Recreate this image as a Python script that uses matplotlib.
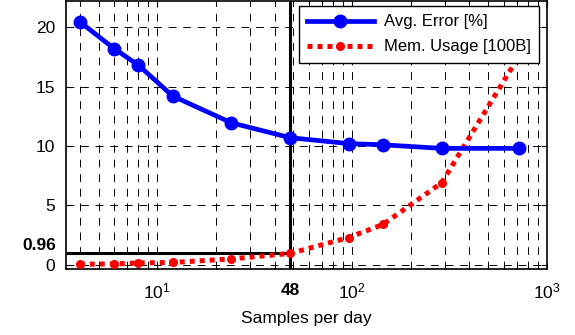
import matplotlib
matplotlib.use("Agg")
import matplotlib.pyplot as plt
from matplotlib.ticker import LogLocator, NullFormatter, FixedLocator, FixedFormatter

plt.rcParams['font.family'] = ['Liberation Sans', 'DejaVu Sans']
plt.rcParams['mathtext.default'] = 'regular'

samples = [4, 6, 8, 12, 24, 48, 96, 144, 288, 720]
avg_error = [20.45, 18.2, 16.8, 14.2, 11.95, 10.7, 10.2, 10.1, 9.8, 9.8]
mem_usage = [0.05, 0.08, 0.16, 0.2, 0.5, 0.96, 2.3, 3.4, 6.9, 17.6]
y_ticks = [0, 5, 10, 15, 20]
x_major = [10, 100, 1000]
x_major_labels = ['$10^{1}$', '$10^{2}$', '$10^{3}$']
mark_x = 48
mark_y = 0.96

fig = plt.figure(figsize=(5.75, 3.35), dpi=100)
ax = fig.add_axes([66/575, (335-269)/335, 481/575, 268/335])

ax.set_xscale('log')
ax.set_xlim(3.4, 1000)
ax.set_ylim(-0.35, 22.2)

# grid
gls = (0, (8, 7))
ax.grid(True, which='major', axis='both', color='black', linestyle=gls, linewidth=0.7)
ax.xaxis.set_minor_locator(LogLocator(base=10, subs=range(2, 10)))
ax.xaxis.set_minor_formatter(NullFormatter())
ax.grid(True, which='minor', axis='x', color='black', linestyle=gls, linewidth=0.7)
ax.set_axisbelow(True)

ax.xaxis.set_major_locator(FixedLocator(x_major))
ax.xaxis.set_major_formatter(FixedFormatter(x_major_labels))
ax.set_yticks(y_ticks)
ax.set_yticklabels([str(t) for t in y_ticks])

ax.tick_params(which='both', direction='in', top=True, right=True, labelsize=12.5, width=0.8)
ax.tick_params(which='major', length=4)
ax.tick_params(which='minor', length=2.5)
ax.tick_params(axis='x', pad=9)
ax.tick_params(axis='y', pad=8)
for s in ax.spines.values():
    s.set_linewidth(1.2)

# marker lines
ax.axvline(mark_x, color='black', linewidth=2.2, zorder=3)
ax.plot([3.4, mark_x], [mark_y, mark_y], color='black', linewidth=2.2, zorder=3)

l1, = ax.plot(samples, avg_error, color='#0000ff', linewidth=3.4, marker='o',
              markersize=9, label='Avg. Error [%]', zorder=5)
l2, = ax.plot(samples, mem_usage, color='#ff0000', linewidth=3.6, linestyle=(0, (1, 1)),
              marker='o', markersize=5.5, label='Mem. Usage [100B]', zorder=4)

# extra bold labels
ax.annotate(str(mark_x), xy=(mark_x, 0), xycoords=('data', 'axes fraction'),
            xytext=(0, -10), textcoords='offset points', ha='center', va='top',
            fontsize=12.5, fontweight='bold')
ax.annotate(f'{mark_y}', xy=(0, mark_y), xycoords=('axes fraction', 'data'),
            xytext=(-7, 6), textcoords='offset points', ha='right', va='center',
            fontsize=12.5, fontweight='bold')

ax.set_xlabel('Samples per day', fontsize=12.5, labelpad=7)

leg = ax.legend(handles=[l1, l2], loc='upper right', bbox_to_anchor=(0.983, 0.981),
                borderaxespad=0, fontsize=12, frameon=True, fancybox=False,
                edgecolor='black', handlelength=4.0, labelspacing=0.6, borderpad=0.5,
                handletextpad=0.6, framealpha=1)
leg.get_frame().set_linewidth(1.0)
leg.set_zorder(10)

fig.savefig('out.png', dpi=100)
